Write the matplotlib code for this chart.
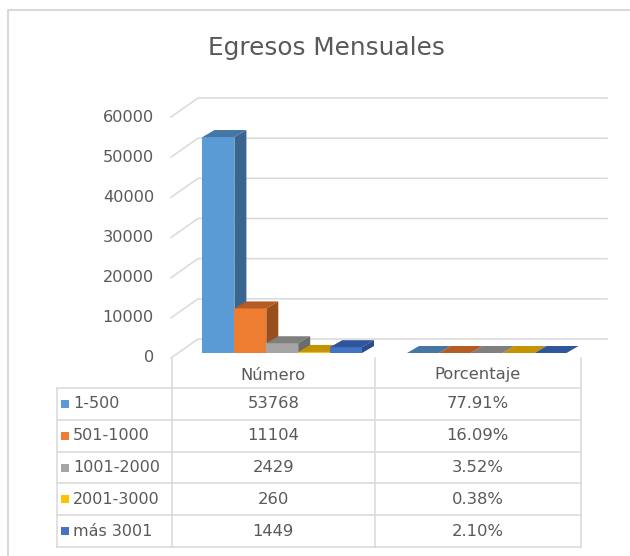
import matplotlib.pyplot as plt
from matplotlib.patches import Polygon, Rectangle
from matplotlib.transforms import blended_transform_factory

# datos
categorias = ["Número", "Porcentaje"]
rangos = ["1-500", "501-1000", "1001-2000", "2001-3000", "más 3001"]
numero = [53768, 11104, 2429, 260, 1449]
porcentaje = [0.7791, 0.1609, 0.0352, 0.0038, 0.0210]
etiquetas_pct = ["77.91%", "16.09%", "3.52%", "0.38%", "2.10%"]
yticks = [0, 10000, 20000, 30000, 40000, 50000, 60000]

frente = ["#5B9BD5", "#ED7D31", "#A5A5A5", "#FFC000", "#4472C4"]
tapa = ["#4676A4", "#B55C24", "#7F7F7F", "#C49300", "#2F559A"]
lado = ["#3A6590", "#9A4E1C", "#6B6B6B", "#A67C00", "#2A4C88"]
gris = "#D9D9D9"
texto = "#595959"

W, H = 630, 556
fig = plt.figure(figsize=(W / 100, H / 100), dpi=100)
plt.rcParams['font.family'] = ['DejaVu Sans']

# ejes de fondo en pixeles
bg = fig.add_axes([0, 0, 1, 1])
bg.set_xlim(0, W)
bg.set_ylim(H, 0)
bg.axis('off')

ax = fig.add_axes([171 / W, (H - 358) / H, (580 - 171) / W, (358 - 117) / H])
ax.set_xlim(-0.5, 1.5)
ax.set_ylim(0, 60000)
ax.axis('off')

px_x = 2 / 409
px_y = 60000 / 241


def off(x, y, dx, dy):
    return (x + dx * px_x, y + dy * px_y)


# rejilla (pared izquierda + fondo)
for v in yticks:
    p0 = (-0.5, v)
    p1 = off(-0.5, v, 27, 19)
    p2 = off(1.5, v, 27, 19)
    ax.plot([p0[0], p1[0], p2[0]], [p0[1], p1[1], p2[1]], color=gris, lw=1.1,
            clip_on=False, zorder=1)
    ax.text(-0.5 - 17 * px_x, v, str(v), ha='right', va='center', fontsize=11.6,
            color=texto)

# barras 3d
bw = 0.156
for i, valores in enumerate([numero, porcentaje]):
    for j, v in enumerate(valores):
        x0 = i - 2.5 * bw + bw * j + 2 * px_x
        x1 = x0 + bw
        ax.bar(x0 + 7 * px_x, v, bw, bottom=5 * px_y, align='edge',
               color=frente[j], lw=0, zorder=3 + j, clip_on=False)
        top = [off(x0, v, 7, 5), off(x1, v, 7, 5), off(x1, v, 19, 12), off(x0, v, 19, 12)]
        ax.add_patch(Polygon(top, closed=True, fc=tapa[j], lw=0, zorder=3 + j,
                             clip_on=False))
        side = [off(x1, 0, 7, 5), off(x1, v, 7, 5), off(x1, v, 19, 12), off(x1, 0, 19, 12)]
        ax.add_patch(Polygon(side, closed=True, fc=lado[j], lw=0, zorder=3 + j,
                             clip_on=False))

fig.text(326 / W, 1 - 48 / H, "Egresos Mensuales", ha='center', va='center',
         fontsize=17.8, color=texto)

# tabla de datos
tr = blended_transform_factory(ax.transData, bg.transData)
filas = [404, 436, 468, 499, 531]
for i, c in enumerate(categorias):
    ax.text(i, 375, c, transform=tr, ha='center', va='center', fontsize=11.8, color=texto)
for j, r in enumerate(rangos):
    y = filas[j]
    ax.text(0, y, str(numero[j]), transform=tr, ha='center', va='center',
            fontsize=11.8, color=texto)
    ax.text(1, y, etiquetas_pct[j], transform=tr, ha='center', va='center',
            fontsize=11.8, color=texto)
    bg.add_patch(Rectangle((61, y - 4), 8, 8, fc=frente[j], lw=0))
    bg.text(73, y, r, ha='left', va='center', fontsize=11.5, color=texto)

lw_t = 1.1
for x in [171.5, 375, 580.5]:
    bg.plot([x, x], [358, 547], color=gris, lw=lw_t)
bg.plot([57, 57], [388, 547], color=gris, lw=lw_t)
for y in [388, 420, 452, 483, 515, 547]:
    bg.plot([57, 580.5], [y, y], color=gris, lw=lw_t)

# borde exterior
bg.plot([8, 8, W], [H, 10, 10], color=gris, lw=1.5)

fig.savefig("out.png", dpi=100)
